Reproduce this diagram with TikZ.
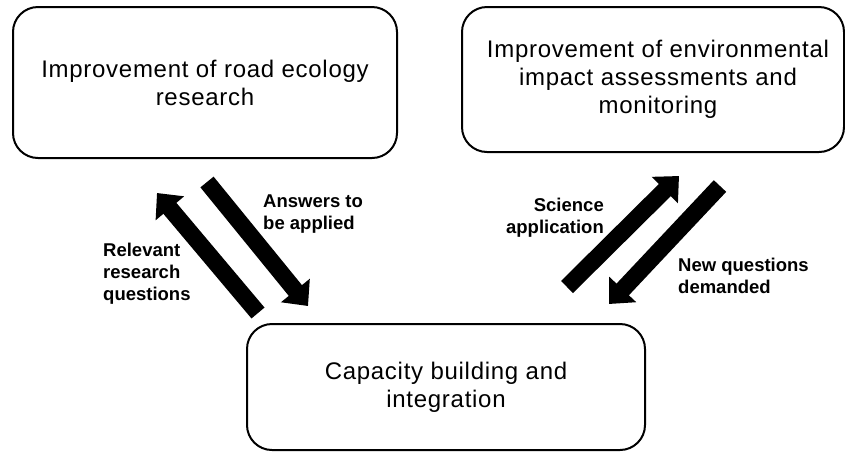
\documentclass[tikz,border=0pt]{standalone}
\usepackage{fontspec}
\setmainfont{Liberation Sans}
\usetikzlibrary{arrows.meta}
\begin{document}
\begin{tikzpicture}[x=1pt,y=-1pt,
  box/.style={draw=black,line width=2pt,rounded corners=25pt,align=center,
    inner sep=0pt,font=\addfontfeature{LetterSpace=3}\fontsize{24}{28}\selectfont},
  lbl/.style={inner sep=0pt,font=\bfseries\fontsize{18.5}{22}\selectfont},
  blockarrow/.style={line width=17pt,-{Triangle[width=36pt,length=20pt]}}]
  \useasboundingbox (0,0) rectangle (845,451);

  % three boxes
  \node[box,minimum width=384pt,minimum height=151pt] (research) at (205,82.5)
    {Improvement of road ecology\\research};
  \node[box,minimum width=382pt,minimum height=145pt] (eia) at (653,79.5)
    {\hspace*{10pt}Improvement of environmental\\\hspace*{10pt}impact assessments and\\\hspace*{10pt}monitoring};
  \node[box,minimum width=398pt,minimum height=126pt] (capacity) at (446,387)
    {Capacity building and\\integration};

  % ends of the block arrows
  \coordinate (relTail) at (258,313);
  \coordinate (relTip)  at (157,193);
  \coordinate (ansTail) at (207,182);
  \coordinate (ansTip)  at (308,306);
  \coordinate (sciTail) at (567,287);
  \coordinate (sciTip)  at (679,176);
  \coordinate (newTail) at (720,186);
  \coordinate (newTip)  at (609,304);

  \draw[blockarrow] (relTail) -- (relTip);
  \draw[blockarrow] (ansTail) -- (ansTip);
  \draw[blockarrow] (sciTail) -- (sciTip);
  \draw[blockarrow] (newTail) -- (newTip);

  % arrow labels
  \node[lbl,align=left,anchor=north west] (relLbl) at (103,243)
    {Relevant\\research\\questions};
  \node[lbl,align=left,anchor=north west] (ansLbl) at (263,195)
    {Answers to\\be applied};
  \node[lbl,align=right,anchor=north east] (sciLbl) at (604,198)
    {Science\\application};
  \node[lbl,align=left,anchor=north west] (newLbl) at (678,258)
    {New questions\\demanded};
\end{tikzpicture}
\end{document}
